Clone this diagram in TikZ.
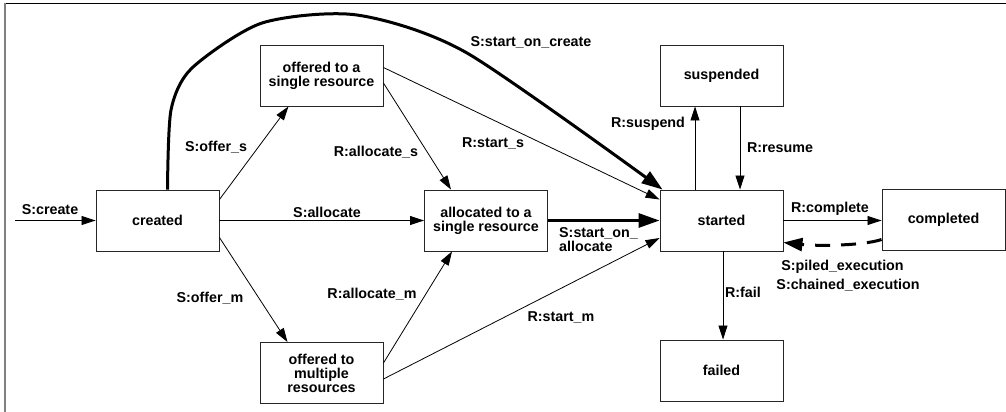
\documentclass[tikz,border=0pt]{standalone}
\usepackage{fontspec}
\setmainfont{Liberation Sans}
\usetikzlibrary{arrows.meta,calc}
\begin{document}
\begin{tikzpicture}[x=1pt,y=-1pt,
  font=\fontsize{14.3}{14}\selectfont\bfseries,
  state/.style={draw=black!85,line width=0.9pt,minimum width=123pt,minimum height=61pt,align=center,inner sep=0pt},
  lbl/.style={inner sep=0pt,anchor=center},
  conn/.style={line width=0.8pt,-{Triangle[length=14pt,width=9pt]}},
  heavy/.style={line width=3pt,-{Triangle[length=21pt,width=14pt]}},
  dashback/.style={line width=3pt,dash pattern=on 15pt off 11pt,-{Triangle[length=19pt,width=13pt]}},
]
\useasboundingbox (0,0) rectangle (1006,412);
% frame
\draw[line width=1.2pt] (5,3.5) -- (1006,3.5);
\draw[gray,line width=2pt] (5,3) -- (5,412);

% states
\node[state] (created) at (157.5,220.5) {created};
\node[state] (offS) at (321.5,75.5) {offered to a\\single resource};
\node[state] (offM) at (321.5,373) {offered to\\multiple\\resources};
\node[state] (alloc) at (486,220.5) {allocated to a\\single resource};
\node[state] (started) at (721.5,220.5) {started};
\node[state] (susp) at (721.5,75.5) {suspended};
\node[state] (failed) at (721.5,370.5) {failed};
\node[state] (compl) at (943.5,219.5) {completed};

\coordinate (in) at (15,220.5);
\coordinate (c0) at ($(created.north)+(10,0)$);
\coordinate (c1) at ($(started.north west)+(3,0)$);

% connectors
\draw[conn] (in) -- (created.west);
\draw[conn] ($(created.east)+(0,-21)$) -- ($(offS.south)+(-33,0)$);
\draw[conn] (created.east) -- (alloc.west);
\draw[conn] ($(created.east)+(0,17)$) -- ($(offM.north)+(-34,0)$);
\draw[conn] ($(offS.east)+(0,7.5)$) -- ($(alloc.north)+(-35,0)$);
\draw[conn] ($(offS.east)+(0,-8)$) -- ($(started.west)+(0,-21)$);
\draw[heavy] plot[smooth,tension=0.45] coordinates {(c0) (171,110) (192,68) (262,23) (357,15) (467,53) (c1)};
\draw[heavy] (alloc.east) -- (started.west);
\draw[conn] ($(offM.east)+(0,-10)$) -- ($(alloc.south)+(-34,0)$);
\draw[conn] ($(offM.east)+(0,6)$) -- ($(started.west)+(0,17.5)$);
\draw[conn] ($(started.north)+(-26.5,0)$) -- ($(susp.south)+(-26.5,0)$);
\draw[conn] ($(susp.south)+(18.5,0)$) -- ($(started.north)+(18.5,0)$);
\draw[conn] (started.east) -- (started.east -| compl.west);
\draw[dashback] ($(compl.west)+(0,20)$) .. controls (862,246) and (815,246) .. ($(started.east)+(0,22)$);
\draw[conn] ($(started.south)+(1.5,0)$) -- ($(failed.north)+(1.5,0)$);

% labels
\node[lbl] (lcreate) at (50,210) {S:create};
\node[lbl] (loffs) at (216,147) {S:offer\_s};
\node[lbl] (lallocs) at (376,152) {R:allocate\_s};
\node[lbl] (lalloc) at (327,212) {S:allocate};
\node[lbl] (loffm) at (210,298) {S:offer\_m};
\node[lbl] (lallocm) at (372,294) {R:allocate\_m};
\node[lbl] (lstarts) at (493,143) {R:start\_s};
\node[lbl] (lsoc) at (531,42) {S:start\_on\_create};
\node[lbl] (lsusp) at (648,124) {R:suspend};
\node[lbl] (lres) at (780,148) {R:resume};
\node[lbl,anchor=west,align=left] (lsoa) at (559,240) {S:start\_on\_\\allocate};
\node[lbl] (lstartm) at (561,317) {R:start\_m};
\node[lbl] (lfail) at (743,292) {R:fail};
\node[lbl] (lcompl) at (830,209) {R:complete};
\node[lbl] (lpiled) at (842.5,267) {S:piled\_execution};
\node[lbl] (lchain) at (848,285) {S:chained\_execution};
\end{tikzpicture}
\end{document}
